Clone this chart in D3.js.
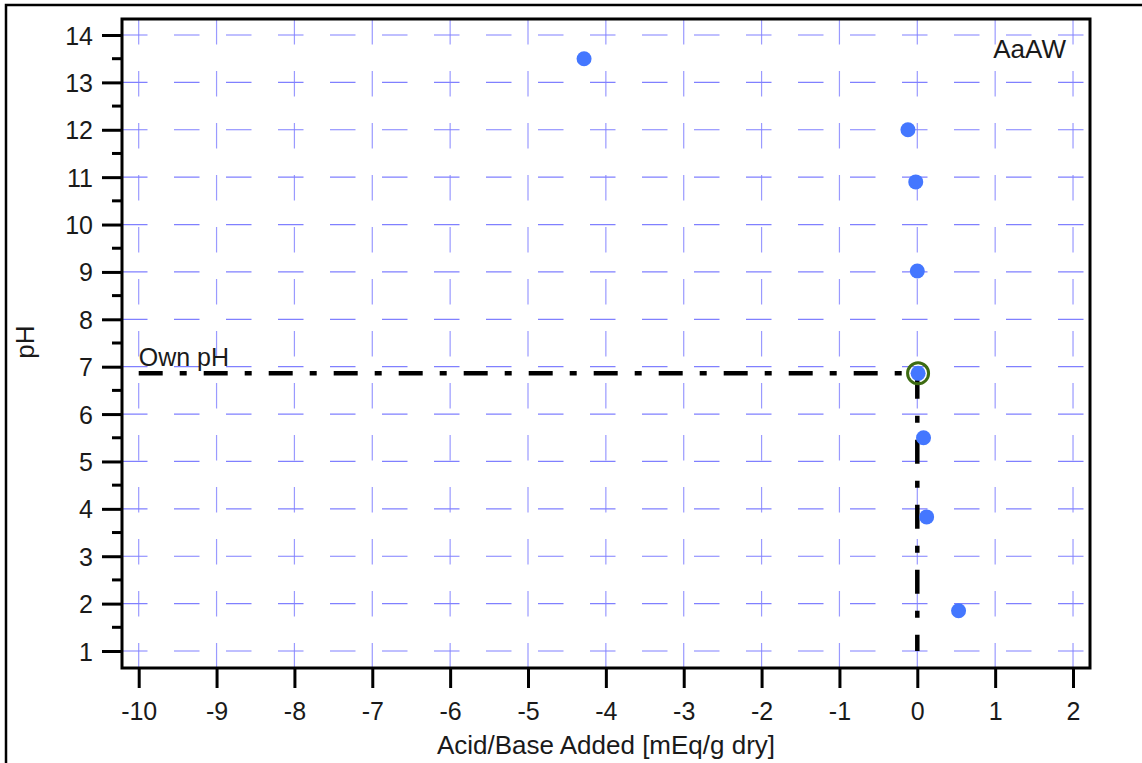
<!DOCTYPE html>
<html>
<head>
<meta charset="utf-8">
<script src="https://cdn.jsdelivr.net/npm/d3@7"></script>
<style>
html,body{margin:0;padding:0;background:#fff;}
svg{display:block;}
text{font-family:"Liberation Sans",Arial,sans-serif;fill:#1a1a1a;}
</style>
</head>
<body>
<svg id="chart" width="1142" height="763"></svg>
<script>
// ---- data ----
const acidBase = [-4.28, -0.12, -0.02, 0.0, 0.01, 0.08, 0.12, 0.53];
const phValues = [13.5, 12.0, 10.9, 9.02, 6.86, 5.5, 3.83, 1.85];
const ownPhX = [0.01];
const ownPhY = [6.86];
const xTicks = [-10,-9,-8,-7,-6,-5,-4,-3,-2,-1,0,1,2];
const yTicks = [1,2,3,4,5,6,7,8,9,10,11,12,13,14];
const yMinorTicks = [1.5,2.5,3.5,4.5,5.5,6.5,7.5,8.5,9.5,10.5,11.5,12.5,13.5];
const chartLabel = "AaAW";
const ownPhLabel = "Own pH";
const xTitle = "Acid/Base Added [mEq/g dry]";
const yTitle = "pH";

// ---- layout ----
const svg = d3.select("#chart");
const box = {left:122, top:19, right:1090, bottom:668};
const x = d3.scaleLinear().domain([-10, 0]).range([138.7, 917.3]);
const y = d3.scaleLinear().domain([1, 14]).range([651, 35]);
const fmt = d => String(d);

// outer frame
svg.append("rect").attr("x",6).attr("y",5).attr("width",1160).attr("height",800)
  .attr("fill","none").attr("stroke","#000").attr("stroke-width",2.5);

// grid
const grid = svg.append("g");
grid.selectAll("line.v").data(xTicks).join("line")
  .attr("x1",d=>x(d)).attr("x2",d=>x(d))
  .attr("y1",box.top).attr("y2",box.bottom)
  .attr("stroke","#9a9aff").attr("stroke-width",1.2)
  .attr("stroke-dasharray","25.5,26.5");
grid.selectAll("line.h").data(yTicks).join("line")
  .attr("x1",box.left).attr("x2",box.right)
  .attr("y1",d=>y(d)).attr("y2",d=>y(d))
  .attr("stroke","#8080ff").attr("stroke-width",1.2)
  .attr("stroke-dasharray","25.5,26.5");

// plot box
svg.append("rect").attr("x",box.left).attr("y",box.top)
  .attr("width",box.right-box.left).attr("height",box.bottom-box.top)
  .attr("fill","none").attr("stroke","#000").attr("stroke-width",3);

// y axis
const yAxis = d3.axisLeft(y).tickValues(yTicks).tickSize(20).tickPadding(9).tickFormat(fmt);
const gy = svg.append("g").attr("transform",`translate(${box.left},0)`).call(yAxis);
gy.select(".domain").remove();
gy.selectAll(".tick line").attr("stroke","#000").attr("stroke-width",3);
gy.selectAll(".tick text").attr("font-size",25).attr("fill","#1a1a1a")
  .attr("font-family","'Liberation Sans',Arial,sans-serif").attr("dy","0.36em");
svg.append("g").selectAll("line").data(yMinorTicks).join("line")
  .attr("x1",box.left-10).attr("x2",box.left)
  .attr("y1",d=>y(d)).attr("y2",d=>y(d))
  .attr("stroke","#000").attr("stroke-width",3);

// x axis
const xAxis = d3.axisBottom(x).tickValues(xTicks).tickSize(20).tickPadding(14).tickFormat(fmt);
const gx = svg.append("g").attr("transform",`translate(0,${box.bottom})`).call(xAxis);
gx.select(".domain").remove();
gx.selectAll(".tick line").attr("stroke","#000").attr("stroke-width",3);
gx.selectAll(".tick text").attr("font-size",25).attr("fill","#1a1a1a")
  .attr("font-family","'Liberation Sans',Arial,sans-serif");

// axis titles
svg.append("text").attr("x",606).attr("y",754).attr("text-anchor","middle")
  .attr("font-size",26).text(xTitle);
svg.append("text").attr("transform","translate(34,342) rotate(-90)")
  .attr("text-anchor","middle").attr("font-size",26).text(yTitle);

// own pH dash-dot line
const ownLine = d3.line().x(d=>x(d[0])).y(d=>y(d[1]));
svg.append("path")
  .attr("d", ownLine([[-10, ownPhY[0]],[0, ownPhY[0]],[0, 1]]))
  .attr("fill","none").attr("stroke","#000").attr("stroke-width",4.5)
  .attr("stroke-dasharray","24,17,7,17");

svg.append("text").attr("x",x(-10)).attr("y",y(ownPhY[0])-7)
  .attr("font-size",25).text(ownPhLabel);

// points
svg.append("g").selectAll("circle").data(acidBase.map((d,i)=>[d, phValues[i]])).join("circle")
  .attr("cx",d=>x(d[0])).attr("cy",d=>y(d[1])).attr("r",7.5)
  .attr("fill","#4477ff");

// own pH marker ring
svg.append("g").selectAll("circle").data(ownPhX.map((d,i)=>[d, ownPhY[i]])).join("circle")
  .attr("cx",d=>x(d[0])).attr("cy",d=>y(d[1])).attr("r",10.5)
  .attr("fill","none").attr("stroke","#3d6b12").attr("stroke-width",3);

// chart label
svg.append("text").attr("x",1066).attr("y",58).attr("text-anchor","end")
  .attr("font-size",26).text(chartLabel);
</script>
</body>
</html>
